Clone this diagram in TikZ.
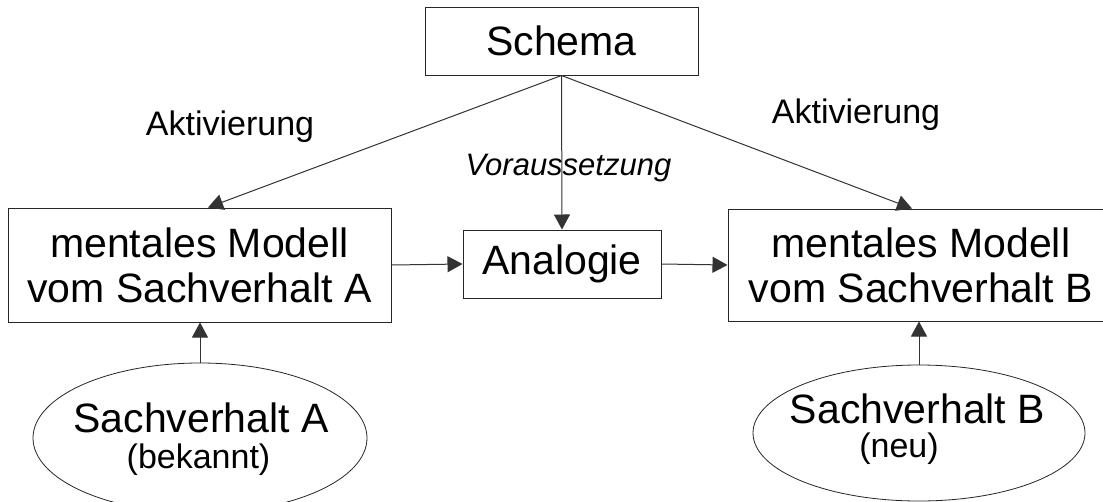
\documentclass[tikz,border=0pt]{standalone}
\usepackage{fontspec}
\setmainfont{Liberation Sans}
\usetikzlibrary{arrows.meta,shapes.geometric}
\tikzset{
  boxnode/.style={draw=black!85, line width=1pt, inner sep=0pt, align=center,
    font=\fontsize{41}{45}\selectfont},
  ellnode/.style={draw=black!85, line width=0.8pt, ellipse, inner sep=0pt},
  big/.style={anchor=base, inner sep=0pt, font=\fontsize{41}{45}\selectfont},
  lbl/.style={anchor=base, inner sep=0pt, font=\fontsize{34}{40}\selectfont},
  arr/.style={draw=black!80, line width=1pt, -{Triangle[length=15pt,width=16pt]}},
}
\begin{document}
\begin{tikzpicture}[x=1pt,y=-1pt]
\clip (0,0) rectangle (1103,501);
\fill[white] (0,0) rectangle (1103,501);
% boxes
\node[boxnode, minimum width=273pt, minimum height=68pt] (schema) at (561.5,41) {Schema};
\node[boxnode, minimum width=383pt, minimum height=114pt] (lbox) at (199.5,265) {mentales Modell\\vom Sachverhalt A};
\node[boxnode, minimum width=198pt, minimum height=68pt] (ana) at (562,264) {Analogie};
\node[boxnode, minimum width=386pt, minimum height=112pt] (rbox) at (921,265) {mentales Modell\\vom Sachverhalt B};
% ellipses
\node[ellnode, minimum width=334pt, minimum height=150pt] (lell) at (200,438) {};
\node[ellnode, minimum width=332pt, minimum height=136pt] (rell) at (919,433) {};
\node[big] (lt1) at (201,432) {Sachverhalt A};
\node[lbl] (lt2) at (198.5,468) {(bekannt)};
\node[big] (rt1) at (917.5,423) {Sachverhalt B};
\node[lbl] (rt2) at (899,457) {(neu)};
% labels
\node[lbl] (akl) at (230,135) {Aktivierung};
\node[lbl] (akr) at (856,123) {Aktivierung};
\node[lbl, font=\fontsize{31}{36}\selectfont\itshape] (vor) at (568.5,175) {Voraussetzung};
% connectors
\draw[arr] (schema.south) -- ([xshift=8.5pt]lbox.north);
\draw[arr] (schema.south) -- (ana.north);
\draw[arr] (schema.south) -- ([xshift=-9pt]rbox.north);
\draw[arr] (lbox.east) -- (ana.west);
\draw[arr] (ana.east) -- (rbox.west);
\draw[arr] (lell.north) -- (lbox.south -| lell.north);
\draw[arr] (rell.north) -- (rbox.south -| rell.north);
\end{tikzpicture}
\end{document}
